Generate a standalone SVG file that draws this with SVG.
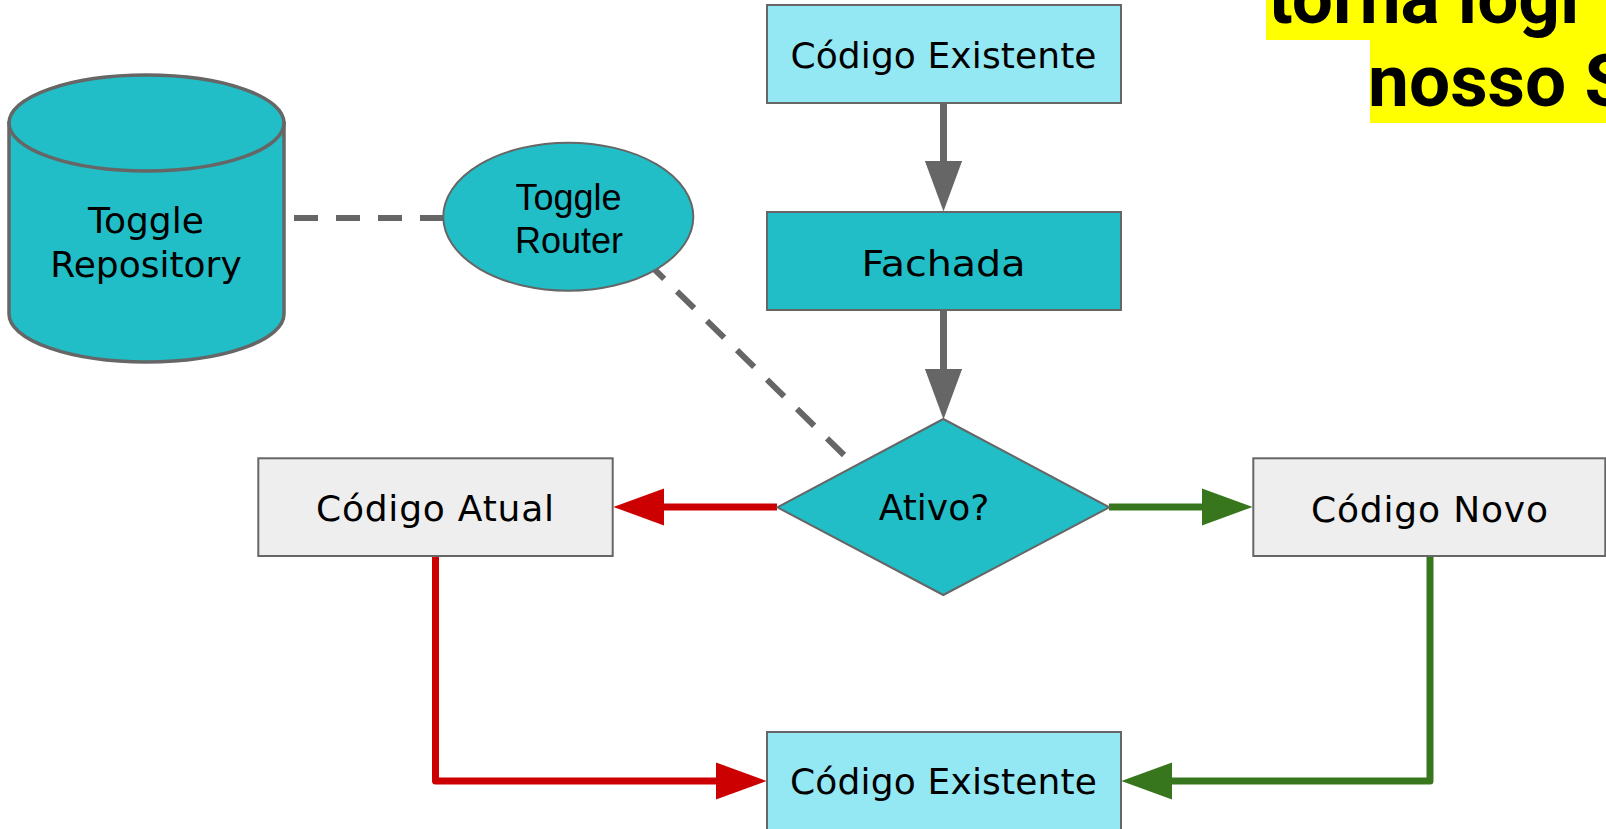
<svg xmlns="http://www.w3.org/2000/svg" width="1606" height="829" viewBox="0 0 1606 829">
  <defs>
    <style>
      .box { stroke: #666666; stroke-width: 2; }
      .teal { fill: #21BEC7; }
      .light { fill: #94E8F4; }
      .gray { fill: #EEEEEE; }
      .lbl { font-family: "DejaVu Sans", "Noto Sans", sans-serif; font-size: 36px; fill: #000; text-anchor: middle; }
      .arial { font-family: "Liberation Sans", Arial, sans-serif; font-size: 36px; fill: #000; text-anchor: middle; }
      .title { font-family: Roboto, "Liberation Sans", sans-serif; font-weight: 700; font-size: 73px; fill: #000; }
      .conn { fill: none; stroke-width: 7; stroke-linejoin: round; }
      .dash { fill: none; stroke: #666666; stroke-width: 6; stroke-dasharray: 24 18; }
    </style>
    <marker id="headGray" viewBox="0 0 10 10" refX="0" refY="5" markerUnits="strokeWidth" markerWidth="7.2" markerHeight="5.3" orient="auto" preserveAspectRatio="none">
      <path d="M0,0 L10,5 L0,10 z" fill="#666666"/>
    </marker>
    <marker id="headRed" viewBox="0 0 10 10" refX="0" refY="5" markerUnits="strokeWidth" markerWidth="7.2" markerHeight="5.3" orient="auto" preserveAspectRatio="none">
      <path d="M0,0 L10,5 L0,10 z" fill="#CC0000"/>
    </marker>
    <marker id="headGreen" viewBox="0 0 10 10" refX="0" refY="5" markerUnits="strokeWidth" markerWidth="7.2" markerHeight="5.3" orient="auto" preserveAspectRatio="none">
      <path d="M0,0 L10,5 L0,10 z" fill="#38761D"/>
    </marker>
  </defs>

  <rect width="1606" height="829" fill="#FFFFFF"/>

  <g id="title">
    <rect x="1266" y="0" width="340" height="40" fill="#FFFF00"/>
    <rect x="1370" y="39" width="236" height="84" fill="#FFFF00"/>
    <text class="title" x="1268" y="23">torna lógi</text>
    <text class="title" x="1368" y="106">nosso S</text>
  </g>

  <g id="connectors">
    <path class="dash" d="M294,218 L446,218"/>
    <path class="dash" d="M647,262 L844,455"/>
    <path class="conn" stroke="#666666" d="M943.5,103 L943.5,161" marker-end="url(#headGray)"/>
    <path class="conn" stroke="#666666" d="M943.5,310 L943.5,369" marker-end="url(#headGray)"/>
    <path class="conn" stroke="#CC0000" d="M777,507 L664,507" marker-end="url(#headRed)"/>
    <path class="conn" stroke="#38761D" d="M1109,507 L1202,507" marker-end="url(#headGreen)"/>
    <path class="conn" stroke="#CC0000" d="M435.5,556 L435.5,781 L716,781" marker-end="url(#headRed)"/>
    <path class="conn" stroke="#38761D" d="M1430,556 L1430,781 L1172,781" marker-end="url(#headGreen)"/>
  </g>

  <g id="toggle-repository">
    <path d="M9,123 L9,314 A137.5,48 0 0 0 284,314 L284,123 Z" class="teal" stroke="#666666" stroke-width="3.5"/>
    <ellipse cx="146.5" cy="123" rx="137.5" ry="48" class="teal" stroke="#666666" stroke-width="3.5"/>
    <text class="lbl" x="146" y="233">Toggle</text>
    <text class="lbl" x="146" y="277">Repository</text>
  </g>

  <g id="toggle-router">
    <ellipse cx="568.3" cy="216.7" rx="125" ry="74" class="teal box"/>
    <text class="arial" x="568.5" y="210">Toggle</text>
    <text class="arial" x="569" y="253">Router</text>
  </g>

  <g id="codigo-existente-top">
    <rect x="767" y="5" width="354" height="98" class="light box"/>
    <text class="lbl" x="943.5" y="68" textLength="306">Código Existente</text>
  </g>

  <g id="fachada">
    <rect x="767" y="212" width="354" height="98" class="teal box"/>
    <text class="lbl" x="943.5" y="276" textLength="164" lengthAdjust="spacingAndGlyphs">Fachada</text>
  </g>

  <g id="ativo">
    <polygon points="777.3,507.3 943.3,419 1109.3,507.3 943.3,595" class="teal box"/>
    <text class="lbl" x="934" y="520">Ativo?</text>
  </g>

  <g id="codigo-atual">
    <rect x="258.3" y="458.3" width="354.4" height="97.7" class="gray box"/>
    <text class="lbl" x="435" y="521" textLength="238">Código Atual</text>
  </g>

  <g id="codigo-novo">
    <rect x="1253.3" y="458.3" width="352" height="97.7" class="gray box"/>
    <text class="lbl" x="1429.5" y="522" textLength="237">Código Novo</text>
  </g>

  <g id="codigo-existente-bottom">
    <rect x="767" y="732" width="354" height="98" class="light box"/>
    <text class="lbl" x="943.5" y="794" textLength="307">Código Existente</text>
  </g>
</svg>
